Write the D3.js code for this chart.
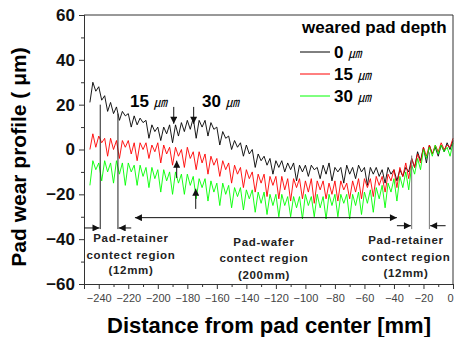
<!DOCTYPE html>
<html>
<head>
<meta charset="utf-8">
<script src="https://cdn.jsdelivr.net/npm/d3@7"></script>
<style>
  body { margin: 0; background: #fff; }
  svg { display: block; font-family: "Liberation Sans", Arial, sans-serif; }
</style>
</head>
<body>
<svg id="chart" width="454" height="337"></svg>
<script>
// distance from pad center [mm], sampled every 2 mm
const distance = [-246,-244,-242,-240,-238,-236,-234,-232,-230,-228,-226,-224,-222,-220,-218,-216,-214,-212,-210,-208,
  -206,-204,-202,-200,-198,-196,-194,-192,-190,-188,-186,-184,-182,-180,-178,-176,-174,-172,-170,-168,
  -166,-164,-162,-160,-158,-156,-154,-152,-150,-148,-146,-144,-142,-140,-138,-136,-134,-132,-130,-128,
  -126,-124,-122,-120,-118,-116,-114,-112,-110,-108,-106,-104,-102,-100,-98,-96,-94,-92,-90,-88,
  -86,-84,-82,-80,-78,-76,-74,-72,-70,-68,-66,-64,-62,-60,-58,-56,-54,-52,-50,-48,
  -46,-44,-42,-40,-38,-36,-34,-32,-30,-28,-26,-24,-22,-20,-18,-16,-14,-12,-10,-8,
  -6,-4,-2,0];

// wear profile [um] for each weared pad depth
const depth0 = [21,30,26,28,22,24,17,21,16,19,13,17,15,16,10,15,11,14,12,13,
  5,11,8,10,4,10,7,11,3,11,6,12,8,13,9,14,5,13,10,13,
  6,12,9,10,2,8,5,6,0,4,1,3,-3,2,-2,0,-8,-2,-5,-3,
  -7,-4,-11,-5,-8,-5,-10,-6,-9,-6,-14,-7,-10,-7,-12,-7,-9,-8,-13,-7,
  -11,-6,-14,-8,-10,-8,-15,-7,-11,-8,-13,-7,-10,-8,-16,-8,-11,-8,-12,-9,
  -15,-8,-11,-9,-14,-9,-12,-8,-10,-4,-8,-1,-5,1,-6,2,-2,1,-3,2,
  -1,3,0,4];
const depth15 = [0,7,1,6,3,5,-3,5,0,4,-4,4,1,4,-2,3,-5,3,0,3,
  -4,2,-1,3,-6,2,-2,1,-7,1,-3,0,-8,1,-4,-1,-9,-1,-6,-2,
  -11,-3,-7,-4,-12,-5,-9,-6,-15,-7,-11,-8,-17,-9,-13,-10,-19,-11,-15,-11,
  -21,-12,-16,-12,-22,-12,-18,-13,-23,-13,-17,-13,-22,-14,-19,-13,-24,-14,-18,-14,
  -22,-15,-20,-14,-23,-14,-18,-15,-22,-14,-19,-13,-22,-13,-17,-13,-21,-12,-16,-12,
  -19,-11,-14,-9,-17,-8,-12,-6,-13,-4,-8,-2,-6,1,-3,2,-2,2,-1,3,
  0,2,1,5];
const depth30 = [-16,-5,-9,-6,-14,-5,-10,-6,-15,-5,-11,-6,-16,-6,-10,-7,-16,-7,-12,-8,
  -17,-8,-13,-9,-19,-9,-14,-10,-20,-10,-15,-11,-20,-11,-16,-12,-22,-13,-17,-13,
  -23,-14,-19,-15,-25,-15,-20,-16,-26,-17,-21,-17,-27,-18,-22,-18,-28,-19,-24,-19,
  -29,-20,-25,-20,-30,-20,-25,-21,-30,-21,-26,-21,-31,-20,-25,-21,-30,-20,-26,-21,
  -31,-20,-25,-20,-30,-20,-24,-20,-31,-20,-25,-19,-29,-19,-24,-18,-28,-17,-22,-16,
  -26,-15,-19,-13,-23,-12,-17,-10,-18,-7,-11,-4,-9,0,-4,1,-3,2,-2,2,
  -1,1,-3,3];

const seriesNames = ["0 \u339B", "15 \u339B", "30 \u339B"];
const seriesColors = ["#000000", "#ff0000", "#00ff00"];
const seriesValues = [depth0, depth15, depth30];

const xTicks = [-240,-220,-200,-180,-160,-140,-120,-100,-80,-60,-40,-20,0];
const xMinor = [-250,-230,-210,-190,-170,-150,-130,-110,-90,-70,-50,-30,-10];
const yTicks = [-60,-40,-20,0,20,40,60];
const yMinor = [-50,-30,-10,10,30,50];

const svg = d3.select('#chart');
const x = d3.scaleLinear().domain([-250, 0]).range([84, 453]);
const y = d3.scaleLinear().domain([-60, 60]).range([284, 15]);

// arrow head marker
svg.append('defs').append('marker')
  .attr('id', 'head')
  .attr('viewBox', '0 0 10 10')
  .attr('refX', 10).attr('refY', 5)
  .attr('markerUnits', 'userSpaceOnUse')
  .attr('markerWidth', 8).attr('markerHeight', 7)
  .attr('orient', 'auto-start-reverse')
  .append('path').attr('d', 'M0,0 L10,5 L0,10 Z').attr('fill', '#111');

// profiles
const line = d3.line().x((d, i) => x(distance[i])).y(d => y(d));
svg.append('g').selectAll('path')
  .data(seriesValues)
  .join('path')
  .attr('d', line)
  .attr('fill', 'none')
  .attr('stroke', (d, i) => seriesColors[i])
  .attr('stroke-width', 0.9);

// frame
svg.append('path')
  .attr('d', `M${x(-250)},${y(60)}H${x(0)}V${y(-60)}`)
  .attr('fill', 'none').attr('stroke', '#333').attr('stroke-width', 1);

// axes
const gx = svg.append('g').attr('transform', `translate(0,${y(-60)})`)
  .call(d3.axisBottom(x).tickValues(xTicks).tickSize(5).tickPadding(5).tickFormat(d3.format('d')));
gx.selectAll('text').attr('font-size', 11).attr('fill', '#444').attr('font-family', '"Liberation Sans", Arial, sans-serif');
gx.selectAll('.tick').filter(d => d === 0).select('text').attr('text-anchor', 'end').attr('dx', 0);
svg.append('g').attr('transform', `translate(0,${y(-60)})`)
  .call(d3.axisBottom(x).tickValues(xMinor).tickSize(3).tickFormat(''));

const gy = svg.append('g').attr('transform', `translate(${x(-250)},0)`)
  .call(d3.axisLeft(y).tickValues(yTicks).tickSize(5).tickPadding(4).tickFormat(d3.format('d')));
gy.selectAll('text').attr('font-size', 17).attr('font-weight', 'bold').attr('fill', '#111')
  .attr('font-family', '"Liberation Sans", Arial, sans-serif');
svg.append('g').attr('transform', `translate(${x(-250)},0)`)
  .call(d3.axisLeft(y).tickValues(yMinor).tickSize(3).tickFormat(''));

svg.selectAll('.domain').attr('stroke', '#333');
svg.selectAll('.tick line').attr('stroke', '#333');

// axis titles
svg.append('text')
  .attr('x', 269).attr('y', 333)
  .attr('text-anchor', 'middle').attr('font-size', 22).attr('font-weight', 'bold')
  .text('Distance from pad center [mm]');
svg.append('text')
  .attr('transform', 'translate(26,157) rotate(-90)')
  .attr('text-anchor', 'middle').attr('font-size', 21).attr('font-weight', 'bold')
  .text('Pad wear profile ( \u03BCm)');

// legend
const legend = svg.append('g');
legend.append('text').attr('x', 302).attr('y', 33)
  .attr('font-size', 17).attr('font-weight', 'bold').text('weared pad depth');
seriesNames.forEach((name, i) => {
  const ly = 52 + i * 22;
  legend.append('line').attr('x1', 300).attr('x2', 330).attr('y1', ly).attr('y2', ly)
    .attr('stroke', seriesColors[i]).attr('stroke-width', 1);
  const t = legend.append('text').attr('x', 334).attr('y', ly + 6)
    .attr('font-size', 17).attr('font-weight', 'bold');
  const parts = name.split(' ');
  t.append('tspan').text(parts[0] + ' ');
  t.append('tspan').attr('font-size', 13).attr('font-weight', 'normal').attr('font-style', 'italic')
    .attr('font-family', '"Noto Sans CJK KR", sans-serif').text(parts[1]);
});

// boundaries of contact regions
const boundaries = [[-239, 20], [-227, 16], [-28, -2.7], [-16, -1.3]];
svg.append('g').selectAll('line').data(boundaries).join('line')
  .attr('x1', d => x(d[0])).attr('x2', d => x(d[0]))
  .attr('y1', d => y(d[1])).attr('y2', y(-35.5))
  .attr('stroke', (d, i) => i < 2 ? '#222' : '#777').attr('stroke-width', 1);

// arrows [x1, y1, x2, y2] in data units, head at the second point
const arrows = [
  [-250, -35, -239.5, -35], [-218, -35, -226.5, -35],
  [-38, -34, -28.5, -34], [-5, -34, -15.5, -34],
  [-189.2, 19, -189.2, 11.5], [-175.7, 19, -175.7, 11.5],
  [-187.2, -12.7, -187.2, -5], [-174.3, -26.5, -174.3, -17.5]
];
svg.append('g').selectAll('line').data(arrows).join('line')
  .attr('x1', d => x(d[0])).attr('y1', d => y(d[1]))
  .attr('x2', d => x(d[2])).attr('y2', d => y(d[3]))
  .attr('stroke', '#111').attr('stroke-width', 1)
  .attr('marker-end', 'url(#head)');

// pad-wafer double arrow
svg.append('line')
  .attr('x1', x(-215.5)).attr('x2', x(-38)).attr('y1', y(-30.4)).attr('y2', y(-30.4))
  .attr('stroke', '#111').attr('stroke-width', 1)
  .attr('marker-start', 'url(#head)').attr('marker-end', 'url(#head)');

// depth annotations
[['15', 130], ['30', 202]].forEach(([v, tx]) => {
  const t = svg.append('text').attr('x', tx).attr('y', 107).attr('font-size', 17).attr('font-weight', 'bold');
  t.append('tspan').text(v + ' ');
  t.append('tspan').attr('font-size', 13).attr('font-weight', 'normal').attr('font-style', 'italic')
    .attr('font-family', '"Noto Sans CJK KR", sans-serif').text('\u339B');
});

// region labels
const regions = [
  { cx: 131, ys: [242, 259, 274], lines: ['Pad-retainer', 'contect region', '(12mm)'] },
  { cx: 264, ys: [246, 262, 279], lines: ['Pad-wafer', 'contect region', '(200mm)'] },
  { cx: 406, ys: [244, 261, 277], lines: ['Pad-retainer', 'contect region', '(12mm)'] }
];
regions.forEach(r => {
  r.lines.forEach((s, i) => {
    svg.append('text').attr('x', r.cx).attr('y', r.ys[i])
      .attr('text-anchor', 'middle').attr('font-size', 11.5).attr('font-weight', 'bold')
      .attr('letter-spacing', 0.7).attr('fill', '#222').text(s);
  });
});
</script>
</body>
</html>
